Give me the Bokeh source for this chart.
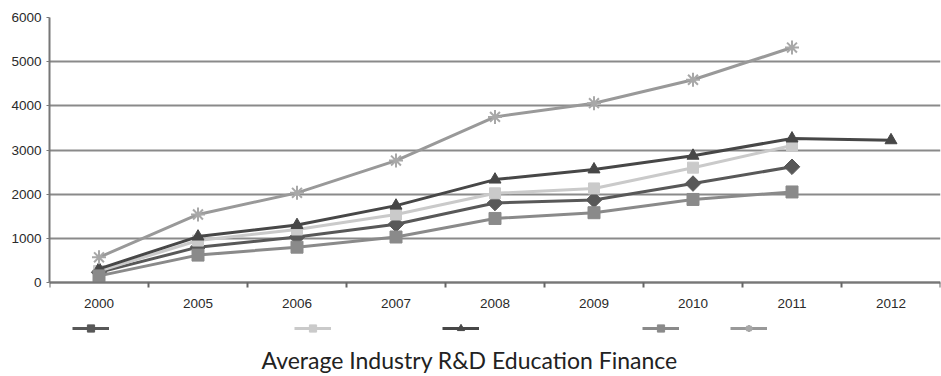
import math

from bokeh.core.properties import value
from bokeh.embed import file_html
from bokeh.models import (FixedTicker, Legend, LegendItem, Range1d, Title)
from bokeh.plotting import figure
from bokeh.resources import INLINE

# --- data -------------------------------------------------------------
years = ["2000", "2005", "2006", "2007", "2008", "2009", "2010", "2011", "2012"]
nan = math.nan
series_diamond = [230, 800, 1030, 1320, 1800, 1870, 2240, 2620, nan]
series_light_square = [260, 950, 1200, 1540, 2020, 2130, 2600, 3100, nan]
series_triangle = [310, 1040, 1300, 1740, 2330, 2560, 2870, 3260, 3220]
series_square = [150, 620, 800, 1030, 1450, 1580, 1880, 2050, nan]
series_star = [570, 1540, 2030, 2760, 3750, 4060, 4590, 5320, nan]
y_ticks = [0, 1000, 2000, 3000, 4000, 5000, 6000]
title_text = "Average Industry R&D Education Finance"

# --- layout (pixels) ----------------------------------------------------
W, H = 941, 376
left_px, top_px, zero_px, frame_bottom_px = 49, 17, 282, 342
y_max = 6000
# the frame reaches below the value axis so that the key row fits inside it
y_min = -(frame_bottom_px - zero_px) / (zero_px - top_px) * y_max

# category centres sit at half-integer positions, boundaries at integers
xs = [i + 0.5 for i in range(len(years))]

p = figure(width=W, height=H, output_backend="svg", toolbar_location=None,
           x_range=Range1d(0, len(years)), y_range=Range1d(y_min, y_max),
           min_border_left=left_px, min_border_right=1, min_border_top=top_px,
           min_border_bottom=H - frame_bottom_px)
p.outline_line_color = None

# category axis drawn on the zero line
xa = p.xaxis[0]
xa.fixed_location = 0
xa.ticker = FixedTicker(ticks=xs, minor_ticks=list(range(len(years) + 1)))
xa.major_label_overrides = {x: y for x, y in zip(xs, years)}
xa.major_tick_line_color = None
xa.major_tick_out = 0
xa.major_tick_in = 0
xa.minor_tick_out = 5
xa.minor_tick_in = 0
xa.minor_tick_line_color = "#666666"
xa.minor_tick_line_width = 2
xa.major_label_standoff = 11
xa.axis_line_color = "#777777"
xa.axis_line_width = 2

ya = p.yaxis[0]
ya.bounds = (0, y_max)
ya.ticker = FixedTicker(ticks=y_ticks)
ya.minor_tick_line_color = None
ya.major_tick_out = 3
ya.major_tick_in = 0
ya.major_tick_line_color = "#777777"
ya.axis_line_color = "#777777"
ya.axis_line_width = 2
ya.major_label_standoff = 5

for ax in (xa, ya):
    ax.major_label_text_font = "Liberation Sans"
    ax.major_label_text_font_size = "13.5px"
    ax.major_label_text_color = "#2a2a2a"

p.xgrid.grid_line_color = None
p.ygrid.grid_line_color = "#8a8a8a"
p.ygrid.grid_line_width = 2

# --- series -------------------------------------------------------------
specs = [
    (series_diamond, "#585858", "square", 11, math.pi / 4),
    (series_light_square, "#cacaca", "square", 11, 0),
    (series_triangle, "#474747", "triangle", 12, 0),
    (series_square, "#8a8a8a", "square", 12, 0),
    (series_star, "#999999", "asterisk", 14, 0),
]

# left edge of each key sample, measured from the frame's left side
legend_x = [23, 245, 393, 593, 681]
for (vals, color, marker, size, angle), lx in zip(specs, legend_x):
    ln = p.line(xs, vals, line_color=color, line_width=3)
    if marker == "asterisk":
        sc = p.scatter(xs, vals, marker=marker, size=size, line_color="#a8a8a8",
                       line_width=2)
    else:
        sc = p.scatter(xs, vals, marker=marker, size=size, angle=angle,
                       fill_color=color, line_color=color)
    leg = Legend(items=[LegendItem(label=value(""), renderers=[ln, sc])],
                 location=(lx, 5), orientation="horizontal",
                 glyph_width=37, glyph_height=18, label_standoff=0,
                 label_width=0, padding=0, margin=0, spacing=0,
                 border_line_color=None, background_fill_alpha=0)
    p.add_layout(leg, "center")

p.add_layout(Title(text=title_text, align="left", offset=212, text_font="Lato",
                   text_font_style="normal", text_font_size="23px",
                   text_color="#222222", standoff=3), "below")

open("out.html", "w").write(file_html(p, INLINE))
